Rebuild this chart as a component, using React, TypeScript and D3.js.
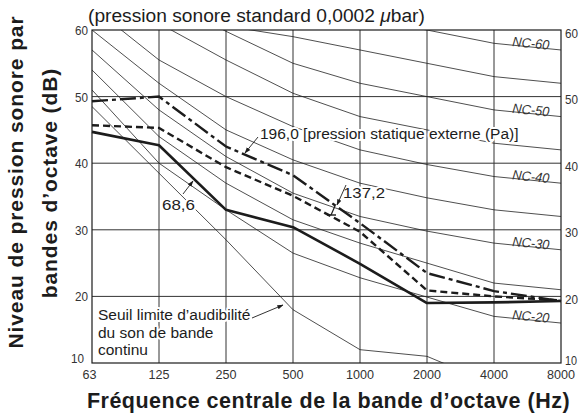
import React from "react";
import * as d3 from "d3";

const FREQS = ["63", "125", "250", "500", "1000", "2000", "4000", "8000"];
const Y_TICKS = [10, 20, 30, 40, 50, 60];
const GRID_Y = [20, 30, 40, 50];

const NC_20 = [51, 40, 33, 26.5, 22.8, 19.9, 17, 16];
const NC_25 = [54, 44, 37, 31.5, 28, 25, 22, 21];
const NC_30 = [57, 48, 41, 35.5, 32, 29.8, 28, 27];
const NC_35 = [60, 52, 45, 40.5, 37, 34.8, 33, 32];
const NC_40 = [63.5, 55.5, 50, 45.5, 42, 39.8, 38, 37];
const NC_45 = [67, 61, 55.5, 50.5, 47, 45, 43, 42];
const NC_50 = [71, 65, 59.8, 55, 52, 50, 48, 47];
const NC_55 = [74, 68, 60.6, 59, 57, 55, 53, 52];
const NC_60 = [77, 71, 67, 63, 61.5, 60, 58, 57];
const NC_LEVELS = [20, 25, 30, 35, 40, 45, 50, 55, 60];
const NC_LABELED = [20, 30, 40, 50, 60];

const S_196 = [49.3, 50, 42.5, 38.2, 31, 23.5, 20.8, 19.3];
const S_137 = [45.7, 45.3, 39.4, 35.1, 29.7, 20.9, 20.0, 19.4];
const S_68 = [44.7, 42.7, 33, 30.4, 24.9, 19, 19.1, 19.3];
const THRESHOLD = [48.5, 38.5, 28.5, 18, 12, 11, 6.8];

const SUBTITLE = "(pression sonore standard 0,0002 ";
const Y_TITLE_1 = "Niveau de pression sonore par";
const Y_TITLE_2 = "bandes d\u2019octave (dB)";
const X_TITLE = "Fr\u00e9quence centrale de la bande d\u2019octave (Hz)";
const LABEL_196 = "196,0 [pression statique externe (Pa)]";
const LABEL_137 = "137,2";
const LABEL_68 = "68,6";
const SEUIL = ["Seuil limite d\u2019audibilit\u00e9", "du son de bande", "continu"];

const W = 581;
const H = 415;
const SANS = "'Liberation Sans', Arial, Helvetica, sans-serif";
const INK = "#1c1c1c";

export default function App() {
  const x = d3.scalePoint<string>().domain(FREQS).range([92, 561]);
  const y = d3.scaleLinear().domain([10, 60]).range([363, 30]);
  const ncSets = [NC_20, NC_25, NC_30, NC_35, NC_40, NC_45, NC_50, NC_55, NC_60];

  const line = d3
    .line<number>()
    .defined((d) => d !== null && d !== undefined)
    .x((_, i) => x(FREQS[i]) as number)
    .y((d) => y(d));

  const x0 = x(FREQS[0]) as number;
  const x1 = x(FREQS[FREQS.length - 1]) as number;
  const xs = FREQS.map((f) => x(f) as number);
  const halo = { stroke: "#fff", strokeWidth: 4, paintOrder: "stroke" as const, strokeLinejoin: "round" as const };

  return (
    <svg
      width={W}
      height={H}
      style={{ position: "absolute", left: 0, top: 0, background: "#fff" }}
      fontFamily={SANS}
    >
      <defs>
        <clipPath id="plot">
          <rect x={x0} y={y(60)} width={x1 - x0} height={y(10) - y(60)} />
        </clipPath>
        <marker id="arr" viewBox="0 0 10 10" refX="9" refY="5" markerWidth="7" markerHeight="7" orient="auto">
          <path d="M0,1.5 L10,5 L0,8.5 Z" fill={INK} />
        </marker>
      </defs>

      {/* grid */}
      {GRID_Y.map((v) => (
        <line key={"gy" + v} x1={x0} x2={x1} y1={y(v)} y2={y(v)} stroke="#333" strokeWidth={1} />
      ))}
      {xs.slice(1, -1).map((px, i) => (
        <line key={"gx" + i} x1={px} x2={px} y1={y(60)} y2={y(10)} stroke="#333" strokeWidth={1} />
      ))}
      <rect x={x0} y={y(60)} width={x1 - x0} height={y(10) - y(60)} fill="none" stroke={INK} strokeWidth={1.2} />

      {/* NC curves */}
      <g clipPath="url(#plot)">
        {ncSets.map((vals, i) => (
          <path key={"nc" + i} d={line(vals) || ""} fill="none" stroke="#222" strokeWidth={0.8} />
        ))}
        <path d={line(THRESHOLD) || ""} fill="none" stroke="#222" strokeWidth={0.8} />
      </g>

      {/* NC labels */}
      {NC_LEVELS.map((lvl, i) => {
        if (!NC_LABELED.includes(lvl)) return null;
        const v = ncSets[i];
        const ax = xs[6], bx = xs[7];
        const ay = y(v[6]), by = y(v[7]);
        const cx = (ax + bx) / 2 + 3;
        const t = (cx - ax) / (bx - ax);
        const cy = ay + (by - ay) * t;
        const ang = (Math.atan2(by - ay, bx - ax) * 180) / Math.PI;
        return (
          <text
            key={"ncl" + lvl}
            x={cx}
            y={cy + 1}
            fontSize={13.5}
            fontStyle="italic"
            textAnchor="middle"
            fill="#333"
            transform={`rotate(${ang},${cx},${cy})`}
            textLength={37}
            lengthAdjust="spacingAndGlyphs"
          >
            {"NC-" + lvl}
          </text>
        );
      })}

      {/* annotation texts (white halo interrupts the thin curves) */}
      <text x={260} y={138.5} fontSize={15.5} fill={INK} {...halo}>{LABEL_196}</text>
      <text x={343} y={198} fontSize={15} fill="#222" textLength={42} lengthAdjust="spacingAndGlyphs" {...halo}>{LABEL_137}</text>
      <text x={162} y={210} fontSize={15} fill="#222" textLength={33} lengthAdjust="spacingAndGlyphs" {...halo}>{LABEL_68}</text>
      {SEUIL.map((s, i) => (
        <text key={"se" + i} x={98} y={320 + i * 17.5} fontSize={15.5} fill={INK} {...halo}>{s}</text>
      ))}

      {/* data series */}
      <path d={line(S_68) || ""} fill="none" stroke={INK} strokeWidth={2.6} strokeLinejoin="round" />
      <path d={line(S_137) || ""} fill="none" stroke={INK} strokeWidth={2.4} strokeDasharray="7,4" />
      <path d={line(S_196) || ""} fill="none" stroke={INK} strokeWidth={2.4} strokeDasharray="16,4,4,4" />

      {/* leaders */}
      <line x1={258} y1={137} x2={245} y2={153} stroke={INK} strokeWidth={0.9} markerEnd="url(#arr)" />
      <line x1={346} y1={185} x2={337} y2={205} stroke={INK} strokeWidth={0.9} markerEnd="url(#arr)" />
      <line x1={335} y1={206} x2={331} y2={215} stroke={INK} strokeWidth={1.2} />
      <line x1={327} y1={215} x2={336} y2={215} stroke={INK} strokeWidth={1.4} />
      <line x1={183} y1={194} x2={193} y2={181} stroke={INK} strokeWidth={0.9} markerEnd="url(#arr)" />
      <line x1={252} y1={318} x2={283} y2={305} stroke={INK} strokeWidth={0.9} markerEnd="url(#arr)" />

      {/* y tick labels */}
      {Y_TICKS.map((v) => (
        <text key={"yl" + v} x={v === 10 ? 84 : 88} y={y(v) + (v === 10 ? 0 : 5)} fontSize={13.5} textAnchor="end" fill="#333" textLength={13} lengthAdjust="spacingAndGlyphs">{v}</text>
      ))}
      {Y_TICKS.map((v) => (
        <text key={"yr" + v} x={565} y={y(v) + (v === 10 ? 2 : 7.5)} fontSize={v === 10 ? 12.5 : 13.5} fill="#333" textLength={v === 10 ? 12 : 13} lengthAdjust="spacingAndGlyphs">{v}</text>
      ))}

      {/* x tick labels */}
      {FREQS.map((f, i) => (
        <text key={"xl" + f} x={(x(f) as number) - (i === 0 ? 2.5 : 0)} y={379} fontSize={13.5} textAnchor="middle" fill="#333" textLength={f.length * 7} lengthAdjust="spacingAndGlyphs">{f}</text>
      ))}

      {/* titles */}
      <text x={88} y={22} fontSize={19.2} fill={INK}>
        {SUBTITLE}
        <tspan fontStyle="italic">{"\u03bc"}</tspan>
        {"bar)"}
      </text>
      <text x={328.5} y={408} fontSize={21.5} fontWeight="bold" textAnchor="middle" fill={INK} letterSpacing={0.5}>{X_TITLE}</text>
      <text transform="translate(23,182) rotate(-90)" fontSize={21} fontWeight="bold" textAnchor="middle" fill={INK} letterSpacing={0.9}>{Y_TITLE_1}</text>
      <text transform="translate(57,183) rotate(-90)" fontSize={21} fontWeight="bold" textAnchor="middle" fill={INK} letterSpacing={0.9}>{Y_TITLE_2}</text>
    </svg>
  );
}
